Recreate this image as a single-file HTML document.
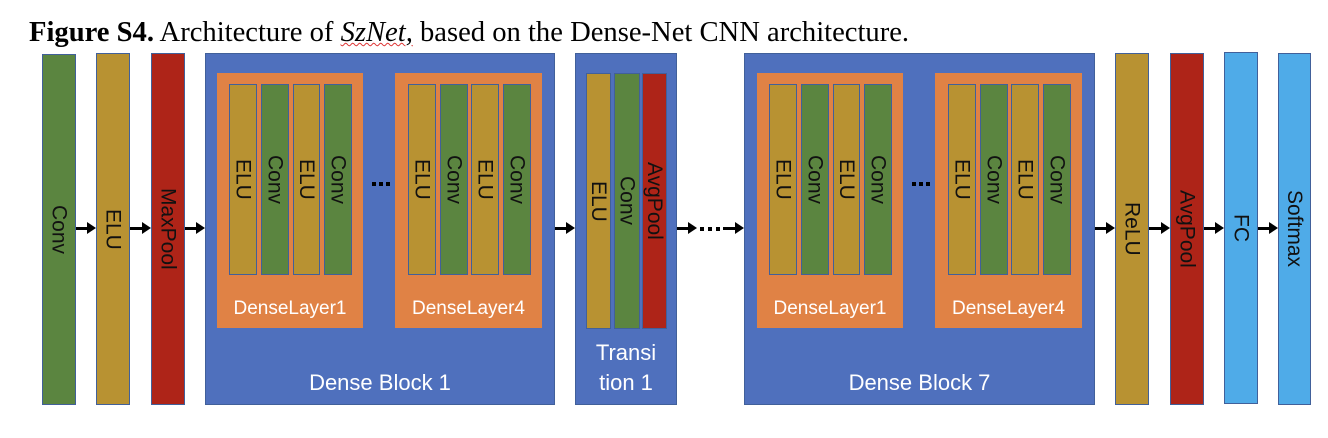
<!DOCTYPE html>
<html><head><meta charset="utf-8"><style>
body{margin:0;width:1328px;height:438px;background:#fff;position:relative;overflow:hidden;font-family:"Liberation Sans",sans-serif}
.b{position:absolute;box-sizing:border-box;border:1px solid #41609a;display:flex;align-items:center;justify-content:center}
.b span{writing-mode:vertical-rl;font-size:21px;color:#111;line-height:1}
.g{background:#5b8540}.y{background:#b89232}.r{background:#ae2418}.bl{background:#4f70bd}.o{background:#e08245}.c{background:#4fabe8}
.lbl{position:absolute;color:#fff;font-size:22px;text-align:center}
.ol{position:absolute;color:#fff;font-size:19px;text-align:center}
.ar{position:absolute;height:3px;background:#000}
.ah{position:absolute;width:0;height:0;border-top:6px solid transparent;border-bottom:6px solid transparent;border-left:9px solid #000}
.dot{position:absolute;width:4px;height:4px;background:#000}
</style></head><body>
<div style="position:absolute;left:29px;top:16px;font-family:'Liberation Serif',serif;font-size:28.6px;white-space:nowrap;line-height:1.2"><b>Figure S4.</b> Architecture of <i style="text-decoration:underline wavy #d33;text-decoration-thickness:1px">SzNet,</i> based on the Dense-Net CNN architecture.</div>

<div class="b g" style="left:42px;top:54px;width:34px;height:351px"><span>Conv</span></div>
<div class="b y" style="left:96px;top:53px;width:34px;height:352px"><span>ELU</span></div>
<div class="b r" style="left:151px;top:53px;width:34px;height:352px"><span>MaxPool</span></div>

<div class="b bl" style="left:205px;top:53px;width:350px;height:352px"></div>
<div class="b o" style="left:217px;top:73px;width:146px;height:255px;border-color:#e08245"></div>
<div class="b y" style="left:229px;top:84px;width:28px;height:191px"><span>ELU</span></div>
<div class="b g" style="left:261px;top:84px;width:28px;height:191px"><span>Conv</span></div>
<div class="b y" style="left:293px;top:84px;width:27px;height:191px"><span>ELU</span></div>
<div class="b g" style="left:324px;top:84px;width:28px;height:191px"><span>Conv</span></div>
<div class="ol" style="left:217px;top:298px;width:146px">DenseLayer1</div>
<div class="dot" style="left:372px;top:182px"></div><div class="dot" style="left:379px;top:182px"></div><div class="dot" style="left:386px;top:182px"></div>
<div class="b o" style="left:395px;top:73px;width:147px;height:255px;border-color:#e08245"></div>
<div class="b y" style="left:408px;top:84px;width:28px;height:191px"><span>ELU</span></div>
<div class="b g" style="left:440px;top:84px;width:28px;height:191px"><span>Conv</span></div>
<div class="b y" style="left:471px;top:84px;width:28px;height:191px"><span>ELU</span></div>
<div class="b g" style="left:503px;top:84px;width:28px;height:191px"><span>Conv</span></div>
<div class="ol" style="left:395px;top:298px;width:147px">DenseLayer4</div>
<div class="lbl" style="left:205px;top:370px;width:350px">Dense Block 1</div>

<div class="b bl" style="left:575px;top:53px;width:102px;height:352px"></div>
<div class="b y" style="left:586px;top:73px;width:25px;height:256px"><span>ELU</span></div>
<div class="b g" style="left:614px;top:73px;width:26px;height:256px"><span>Conv</span></div>
<div class="b r" style="left:642px;top:73px;width:25px;height:256px"><span>AvgPool</span></div>
<div class="lbl" style="left:575px;top:338px;width:102px;line-height:30px">Transi<br>tion 1</div>

<div class="b bl" style="left:744px;top:53px;width:351px;height:352px"></div>
<div class="b o" style="left:757px;top:73px;width:146px;height:255px;border-color:#e08245"></div>
<div class="b y" style="left:769px;top:84px;width:28px;height:191px"><span>ELU</span></div>
<div class="b g" style="left:801px;top:84px;width:28px;height:191px"><span>Conv</span></div>
<div class="b y" style="left:833px;top:84px;width:27px;height:191px"><span>ELU</span></div>
<div class="b g" style="left:864px;top:84px;width:28px;height:191px"><span>Conv</span></div>
<div class="ol" style="left:757px;top:298px;width:146px">DenseLayer1</div>
<div class="dot" style="left:912px;top:182px"></div><div class="dot" style="left:919px;top:182px"></div><div class="dot" style="left:926px;top:182px"></div>
<div class="b o" style="left:935px;top:73px;width:147px;height:255px;border-color:#e08245"></div>
<div class="b y" style="left:948px;top:84px;width:28px;height:191px"><span>ELU</span></div>
<div class="b g" style="left:980px;top:84px;width:28px;height:191px"><span>Conv</span></div>
<div class="b y" style="left:1011px;top:84px;width:28px;height:191px"><span>ELU</span></div>
<div class="b g" style="left:1043px;top:84px;width:28px;height:191px"><span>Conv</span></div>
<div class="ol" style="left:935px;top:298px;width:147px">DenseLayer4</div>
<div class="lbl" style="left:744px;top:370px;width:351px">Dense Block 7</div>

<div class="b y" style="left:1115px;top:53px;width:34px;height:352px"><span>ReLU</span></div>
<div class="b r" style="left:1170px;top:53px;width:34px;height:352px"><span>AvgPool</span></div>
<div class="b c" style="left:1224px;top:52px;width:34px;height:352px"><span>FC</span></div>
<div class="b c" style="left:1278px;top:53px;width:33px;height:352px"><span>Softmax</span></div>

<div class="ar" style="left:76px;top:227px;width:12px"></div><div class="ah" style="left:87px;top:222px"></div>
<div class="ar" style="left:130px;top:227px;width:12px"></div><div class="ah" style="left:142px;top:222px"></div>
<div class="ar" style="left:185px;top:227px;width:12px"></div><div class="ah" style="left:196px;top:222px"></div>
<div class="ar" style="left:555px;top:227px;width:12px"></div><div class="ah" style="left:566px;top:222px"></div>
<div class="ar" style="left:677px;top:227px;width:12px"></div><div class="ah" style="left:688px;top:222px"></div>
<div class="dot" style="left:700px;top:227px"></div><div class="dot" style="left:708px;top:227px"></div><div class="dot" style="left:716px;top:227px"></div>
<div class="ar" style="left:723px;top:227px;width:12px"></div><div class="ah" style="left:735px;top:222px"></div>
<div class="ar" style="left:1095px;top:227px;width:12px"></div><div class="ah" style="left:1106px;top:222px"></div>
<div class="ar" style="left:1149px;top:227px;width:12px"></div><div class="ah" style="left:1161px;top:222px"></div>
<div class="ar" style="left:1204px;top:227px;width:12px"></div><div class="ah" style="left:1215px;top:222px"></div>
<div class="ar" style="left:1258px;top:227px;width:12px"></div><div class="ah" style="left:1269px;top:222px"></div>
</body></html>
